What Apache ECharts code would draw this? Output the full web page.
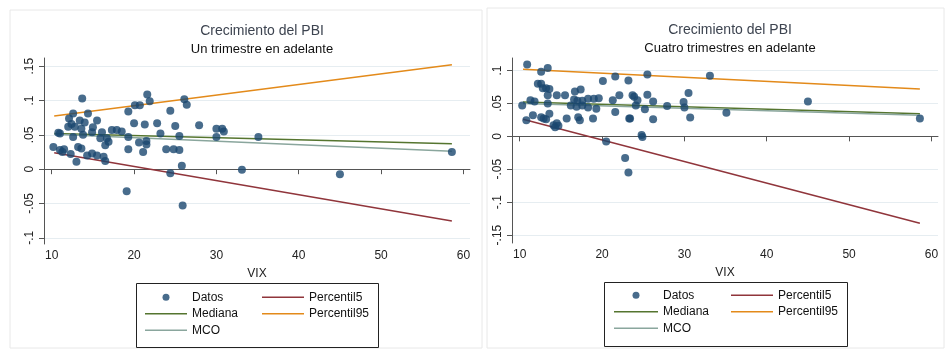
<!DOCTYPE html>
<html>
<head>
<meta charset="utf-8">
<script src="https://cdn.jsdelivr.net/npm/echarts@6/dist/echarts.min.js"></script>
<style>
    html, body { margin: 0; padding: 0; background: #fff; }
    .chart_box { width: 945px; height: 350px; }
</style>
</head>
<body>
<div class="chart_box"></div>
<script>
// datos: [VIX, crecimiento del PBI]
var datosH1 = [
    [10.2, .0325], [10.8, .053], [11.0, .052], [11.0, .028], [11.5, .029], [11.3, .025],
    [12.1, .074], [12.6, .081], [12.0, .062], [12.8, .062], [13.6, .059], [13.4, .071], [14.4, .081],
    [13.7, .103], [15.5, .071], [12.4, .066], [14.0, .068], [15.0, .061],
    [12.6, .047], [13.8, .050], [14.9, .054], [16.1, .054], [17.3, .057], [17.9, .057], [18.5, .055],
    [15.9, .045], [16.7, .045], [16.5, .035], [16.9, .040], [19.3, .047],
    [13.2, .0325], [13.6, .030], [14.3, .020], [14.9, .023], [15.5, .020], [16.3, .018], [13.0, .011],
    [16.5, .012], [12.3, .022],
    [19.3, .084], [20.1, .093], [20.7, .093], [21.6, .109], [21.9, .099], [24.4, .085], [26.1, .102], [26.4, .094],
    [20.0, .067], [21.3, .065], [22.8, .067], [25.0, .063], [27.9, .064], [30.0, .059], [30.7, .059], [30.9, .055],
    [23.2, .052], [25.5, .0485], [30.0, .047], [35.1, .047],
    [20.6, .039], [21.5, .036], [21.5, .041], [19.3, .029], [21.1, .025], [23.9, .029], [24.8, .029], [25.5, .028],
    [25.8, .005], [24.4, -.006], [33.1, -.001], [19.1, -.032], [25.9, -.053], [45.0, -.0075], [58.6, .025]
];
var datosH4 = [
    [10.9, .109], [13.4, .104], [12.6, .098], [12.2, .080], [12.6, .080], [12.8, .073], [13.2, .073], [13.6, .072],
    [13.4, .0625], [14.5, .0625], [15.5, .0625], [16.7, .068], [17.4, .071],
    [16.6, .056], [17.0, .054], [17.6, .054], [18.3, .057], [19.0, .057], [19.6, .058],
    [16.2, .047], [16.9, .045], [17.6, .047], [18.3, .044], [19.3, .042],
    [20.1, .084], [21.6, .091], [23.2, .085], [10.3, .047], [11.3, .055], [11.8, .053], [13.4, .050],
    [21.3, .055], [22.1, .0625], [23.7, .0625],
    [10.8, .0245], [11.6, .032], [12.6, .029], [12.9, .027], [13.2, .026], [13.6, .0345], [14.1, .017],
    [14.3, .014], [14.7, .016], [14.5, .020], [15.7, .027], [17.1, .029], [17.3, .0245], [18.9, .027],
    [20.5, -.008], [21.6, .037], [23.4, .027],
    [25.5, .094], [33.1, .092], [23.9, .060], [24.3, .055], [25.5, .063], [26.2, .053], [24.1, .047],
    [25.2, .041], [27.9, .046], [29.9, .052], [30.5, .066], [30.0, .044], [30.7, .0285], [35.1, .036],
    [23.3, .027], [26.2, .026], [24.8, .002], [24.9, -.001], [22.8, -.033], [23.2, -.055],
    [45.0, .053], [58.6, .027]
];

// rectas estimadas (extremos en VIX)
var vixH1 = [10.3, 58.6];
var p5H1 = [.024, -.0755];
var medH1 = [.052, .037];
var p95H1 = [.0775, .152];
var mcoH1 = [.051, .026];

var vixH4 = [10.4, 58.6];
var p5H4 = [.026, -.132];
var medH4 = [.052, .0345];
var p95H4 = [.102, .072];
var mcoH4 = [.050, .032];

var xTicks = [10, 20, 30, 40, 50, 60];
var yTicksH1 = [-.1, -.05, 0, .05, .1, .15];
var yTicksH4 = [-.15, -.1, -.05, 0, .05, .1];

var colores = {
    datos: '#1a476f',
    p5: '#90353b',
    med: '#55752f',
    p95: '#e38a1a',
    mco: '#8aa69d'
};
var fuente = '"Liberation Sans", Arial, sans-serif';
var iconoLinea = 'path://M0,0H30V1H0Z';

function linea(xs, ys) {
    return [[xs[0], ys[0]], [xs[1], ys[1]]];
}

function fmt(v) {
    var s = String(+v.toFixed(2));
    return s.replace('0.', '.');
}

function ejeX(idx) {
    return {
        type: 'value', gridIndex: idx, min: 9.06, max: 60.8,
        name: 'VIX', nameLocation: 'middle', nameGap: 24,
        nameTextStyle: { color: '#222', fontSize: 12, fontFamily: fuente },
        axisLine: { show: true, lineStyle: { color: '#555' } },
        axisTick: { show: true, length: 5, customValues: xTicks, lineStyle: { color: '#555' } },
        axisLabel: { customValues: xTicks, color: '#222', fontSize: 12, fontFamily: fuente, margin: 6 },
        splitLine: { show: false }
    };
}

function ejeY(idx, min, max, ticks) {
    return {
        type: 'value', gridIndex: idx, min: min, max: max,
        axisLine: { show: true, lineStyle: { color: '#555' } },
        axisTick: { show: true, length: 5, customValues: ticks, lineStyle: { color: '#555' } },
        axisLabel: {
            customValues: ticks, rotate: 90, color: '#222', fontSize: 12, fontFamily: fuente, margin: 8,
            formatter: function(v) { return fmt(v); }
        },
        splitLine: { show: true, lineStyle: { color: '#e6edf1', width: 1 } }
    };
}

function series(idx, datos, xs, p5, med, p95, mco) {
    var lw = 1.5;
    return [
        { name: 'Datos', type: 'scatter', xAxisIndex: idx, yAxisIndex: idx, data: datos,
          symbol: 'circle', symbolSize: 8, symbolKeepAspect: true, itemStyle: { color: colores.datos }, z: 3 },
        { name: 'Percentil5', type: 'line', xAxisIndex: idx, yAxisIndex: idx, data: linea(xs, p5),
          symbol: 'none', lineStyle: { color: colores.p5, width: lw }, itemStyle: { color: colores.p5 } },
        { name: 'Mediana', type: 'line', xAxisIndex: idx, yAxisIndex: idx, data: linea(xs, med),
          symbol: 'none', lineStyle: { color: colores.med, width: lw }, itemStyle: { color: colores.med } },
        { name: 'Percentil95', type: 'line', xAxisIndex: idx, yAxisIndex: idx, data: linea(xs, p95),
          symbol: 'none', lineStyle: { color: colores.p95, width: lw }, itemStyle: { color: colores.p95 } },
        { name: 'MCO', type: 'line', xAxisIndex: idx, yAxisIndex: idx, data: linea(xs, mco),
          symbol: 'none', lineStyle: { color: colores.mco, width: lw }, itemStyle: { color: colores.mco } }
    ];
}

function leyenda(left, top, width, nombres) {
    return {
        orient: 'vertical', left: left, top: top, itemWidth: width, itemHeight: 7, itemGap: 0,
        selectedMode: false, symbolKeepAspect: true,
        textStyle: { color: '#111', fontSize: 12, fontFamily: fuente, lineHeight: 16.5 },
        data: nombres.map(function(n) {
            return n === 'Datos' ? { name: n, icon: 'circle' } : { name: n, icon: iconoLinea };
        })
    };
}

window.addEventListener('load', function() {
    var chart = echarts.init(document.querySelector('.chart_box'));

    chart.setOption({
        backgroundColor: '#fff',
        animation: false,
        title: [{
            text: 'Crecimiento del PBI', subtext: 'Un trimestre en adelante',
            left: 257, top: 19, textAlign: 'center', itemGap: 5,
            textStyle: { color: '#3d4450', fontSize: 14, fontWeight: 'normal', fontFamily: fuente },
            subtextStyle: { color: '#111', fontSize: 13, fontFamily: fuente }
        }, {
            text: 'Crecimiento del PBI', subtext: 'Cuatro trimestres en adelante',
            left: 725, top: 18, textAlign: 'center', itemGap: 5,
            textStyle: { color: '#3d4450', fontSize: 14, fontWeight: 'normal', fontFamily: fuente },
            subtextStyle: { color: '#111', fontSize: 13, fontFamily: fuente }
        }],
        grid: [
            { left: 44, top: 58, width: 426, height: 186 },
            { left: 512, top: 58, width: 426, height: 185 }
        ],
        xAxis: [ejeX(0), ejeX(1)],
        yAxis: [
            ejeY(0, -0.109, 0.162, yTicksH1),
            ejeY(1, -0.162, 0.119, yTicksH4)
        ],
        legend: [
            leyenda(140, 284, 42, ['Datos', 'Mediana', 'MCO']),
            leyenda(257, 284, 42, ['Percentil5', 'Percentil95']),
            leyenda(609, 282, 44, ['Datos', 'Mediana', 'MCO']),
            leyenda(726, 282, 42, ['Percentil5', 'Percentil95'])
        ],
        graphic: [
            { type: 'rect', shape: { x: 10, y: 10, width: 472, height: 338 },
              style: { fill: 'none', stroke: '#e8e8e8', lineWidth: 1 }, z: -1 },
            { type: 'rect', shape: { x: 487, y: 8, width: 457, height: 340 },
              style: { fill: 'none', stroke: '#e8e8e8', lineWidth: 1 }, z: -1 },
            { type: 'rect', shape: { x: 136.5, y: 283.5, width: 242, height: 64 },
              style: { fill: 'none', stroke: '#222', lineWidth: 1 } },
            { type: 'rect', shape: { x: 604.5, y: 282.5, width: 243, height: 64 },
              style: { fill: 'none', stroke: '#222', lineWidth: 1 } }
        ],
        series: series(0, datosH1, vixH1, p5H1, medH1, p95H1, mcoH1)
            .concat(series(1, datosH4, vixH4, p5H4, medH4, p95H4, mcoH4))
    });
});
</script>
</body>
</html>
